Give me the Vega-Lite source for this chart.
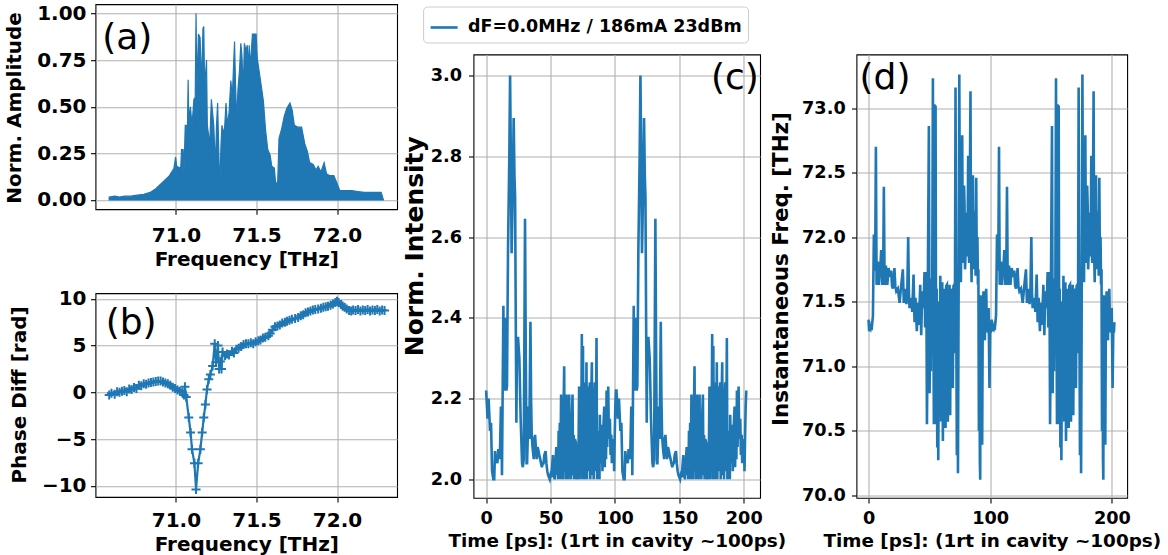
{
  "$schema": "https://vega.github.io/schema/vega-lite/v6.json",
  "background": "white",
  "padding": {"left": 3.5, "top": 2.2, "right": 2, "bottom": 2},
  "config": {
    "font": "DejaVu Sans",
    "view": {"stroke": "black", "strokeWidth": 1.1},
    "axis": {
      "domain": false, "grid": true, "gridColor": "#b0b0b0", "gridWidth": 1.1, "gridOpacity": 1,
      "tickColor": "black", "tickSize": 5, "tickWidth": 1.1,
      "labelFont": "DejaVu Sans", "labelFontWeight": "bold", "labelColor": "black", "labelFontSize": 20,
      "labelPadding": 4.5, "labelFlush": false, "labelOverlap": false, "labelBound": false,
      "titleFont": "DejaVu Sans", "titleFontWeight": "bold", "titleColor": "black", "titleFontSize": 20
    },
    "axisX": {"labelBaseline": "alphabetic", "titleBaseline": "alphabetic"},
    "axisY": {"titleBaseline": "bottom", "titleAngle": 270, "titleAlign": "center"}
  },
  "spacing": 3,
  "resolve": {"scale": {"color": "independent"}, "legend": {"color": "independent"}},
  "datasets": {
    "spec": [
      {"f":70.586,"a":0.015},{"f":70.62,"a":0.02},{"f":70.65,"a":0.015},{"f":70.68,"a":0.02},{"f":70.72,"a":0.02},{"f":70.76,"a":0.025},{"f":70.80,"a":0.03},{"f":70.84,"a":0.04},{"f":70.875,"a":0.06},{"f":70.90,"a":0.08},{"f":70.936,"a":0.11},{"f":70.96,"a":0.13},{"f":70.988,"a":0.17},{"f":70.998,"a":0.23},{"f":71.005,"a":0.18},{"f":71.03,"a":0.17},{"f":71.035,"a":0.27},{"f":71.045,"a":0.27},{"f":71.05,"a":0.14},{"f":71.058,"a":0.40},{"f":71.072,"a":0.40},{"f":71.076,"a":0.645},{"f":71.080,"a":0.42},{"f":71.09,"a":0.50},{"f":71.10,"a":0.40},{"f":71.112,"a":0.54},{"f":71.12,"a":0.55},{"f":71.125,"a":1.0},{"f":71.13,"a":0.60},{"f":71.14,"a":0.89},{"f":71.15,"a":0.87},{"f":71.16,"a":0.62},{"f":71.168,"a":0.92},{"f":71.173,"a":0.93},{"f":71.178,"a":0.60},{"f":71.19,"a":0.75},{"f":71.195,"a":0.40},{"f":71.21,"a":0.30},{"f":71.22,"a":0.54},{"f":71.235,"a":0.40},{"f":71.245,"a":0.17},{"f":71.252,"a":0.40},{"f":71.259,"a":0.52},{"f":71.265,"a":0.30},{"f":71.272,"a":0.05},{"f":71.28,"a":0.30},{"f":71.286,"a":0.40},{"f":71.30,"a":0.35},{"f":71.311,"a":0.52},{"f":71.32,"a":0.40},{"f":71.33,"a":0.47},{"f":71.341,"a":0.64},{"f":71.35,"a":0.55},{"f":71.364,"a":0.85},{"f":71.37,"a":0.62},{"f":71.378,"a":0.42},{"f":71.385,"a":0.59},{"f":71.395,"a":0.70},{"f":71.403,"a":0.84},{"f":71.41,"a":0.77},{"f":71.418,"a":0.58},{"f":71.425,"a":0.84},{"f":71.435,"a":0.80},{"f":71.443,"a":0.83},{"f":71.45,"a":0.70},{"f":71.455,"a":0.83},{"f":71.462,"a":0.71},{"f":71.475,"a":0.89},{"f":71.498,"a":0.89},{"f":71.505,"a":0.76},{"f":71.53,"a":0.61},{"f":71.543,"a":0.53},{"f":71.557,"a":0.37},{"f":71.57,"a":0.27},{"f":71.585,"a":0.24},{"f":71.595,"a":0.18},{"f":71.611,"a":0.17},{"f":71.62,"a":0.08},{"f":71.632,"a":0.10},{"f":71.64,"a":0.33},{"f":71.656,"a":0.38},{"f":71.673,"a":0.45},{"f":71.688,"a":0.49},{"f":71.708,"a":0.52},{"f":71.722,"a":0.48},{"f":71.735,"a":0.40},{"f":71.759,"a":0.39},{"f":71.78,"a":0.39},{"f":71.80,"a":0.30},{"f":71.816,"a":0.26},{"f":71.83,"a":0.20},{"f":71.852,"a":0.19},{"f":71.87,"a":0.16},{"f":71.883,"a":0.18},{"f":71.90,"a":0.15},{"f":71.92,"a":0.20},{"f":71.935,"a":0.14},{"f":71.955,"a":0.13},{"f":71.98,"a":0.13},{"f":71.995,"a":0.10},{"f":72.017,"a":0.05},{"f":72.05,"a":0.05},{"f":72.09,"a":0.05},{"f":72.13,"a":0.045},{"f":72.17,"a":0.04},{"f":72.22,"a":0.04},{"f":72.274,"a":0.04},{"f":72.288,"a":0.0}
    ],
    "phase": [
      {"f":70.586,"p":-0.3},{"f":70.60,"p":-0.1},{"f":70.62,"p":-0.2},{"f":70.635,"p":0.05},{"f":70.65,"p":0.0},{"f":70.665,"p":0.1},{"f":70.68,"p":0.2},{"f":70.695,"p":0.05},{"f":70.71,"p":0.35},{"f":70.725,"p":0.3},{"f":70.74,"p":0.5},{"f":70.755,"p":0.4},{"f":70.77,"p":0.75},{"f":70.785,"p":0.7},{"f":70.80,"p":0.9},{"f":70.815,"p":0.85},{"f":70.83,"p":1.0},{"f":70.845,"p":1.05},{"f":70.86,"p":1.1},{"f":70.875,"p":1.15},{"f":70.89,"p":1.2},{"f":70.905,"p":1.2},{"f":70.92,"p":1.1},{"f":70.935,"p":1.0},{"f":70.95,"p":0.9},{"f":70.965,"p":0.75},{"f":70.98,"p":0.55},{"f":70.995,"p":0.4},{"f":71.01,"p":0.25},{"f":71.025,"p":0.1},{"f":71.04,"p":0.0},{"f":71.05,"p":-0.3},{"f":71.056,"p":0.6},{"f":71.064,"p":-0.5},{"f":71.08,"p":-2.7},{"f":71.091,"p":-4.3},{"f":71.10,"p":-6.1},{"f":71.115,"p":-7.6},{"f":71.125,"p":-10.4},{"f":71.138,"p":-7.6},{"f":71.152,"p":-6.1},{"f":71.163,"p":-4.3},{"f":71.173,"p":-2.7},{"f":71.183,"p":-1.3},{"f":71.193,"p":0.3},{"f":71.204,"p":1.4},{"f":71.214,"p":1.9},{"f":71.228,"p":2.8},{"f":71.241,"p":5.2},{"f":71.249,"p":3.2},{"f":71.261,"p":5.0},{"f":71.268,"p":2.5},{"f":71.276,"p":3.3},{"f":71.283,"p":2.5},{"f":71.29,"p":4.3},{"f":71.305,"p":3.9},{"f":71.317,"p":4.1},{"f":71.33,"p":4.0},{"f":71.348,"p":4.4},{"f":71.36,"p":4.2},{"f":71.375,"p":4.6},{"f":71.389,"p":4.7},{"f":71.405,"p":4.9},{"f":71.42,"p":5.1},{"f":71.435,"p":5.2},{"f":71.45,"p":5.2},{"f":71.465,"p":5.3},{"f":71.48,"p":5.2},{"f":71.495,"p":5.4},{"f":71.512,"p":5.5},{"f":71.525,"p":5.6},{"f":71.54,"p":5.8},{"f":71.555,"p":5.9},{"f":71.574,"p":6.05},{"f":71.585,"p":6.3},{"f":71.60,"p":6.7},{"f":71.615,"p":7.0},{"f":71.63,"p":7.1},{"f":71.645,"p":7.2},{"f":71.66,"p":7.4},{"f":71.677,"p":7.5},{"f":71.69,"p":7.6},{"f":71.705,"p":7.7},{"f":71.72,"p":7.8},{"f":71.74,"p":7.9},{"f":71.759,"p":8.0},{"f":71.775,"p":8.2},{"f":71.79,"p":8.3},{"f":71.805,"p":8.5},{"f":71.82,"p":8.6},{"f":71.835,"p":8.7},{"f":71.85,"p":8.8},{"f":71.865,"p":8.85},{"f":71.883,"p":8.9},{"f":71.90,"p":9.0},{"f":71.915,"p":9.1},{"f":71.93,"p":9.15},{"f":71.944,"p":9.2},{"f":71.96,"p":9.3},{"f":71.975,"p":9.45},{"f":71.99,"p":9.6},{"f":72.0,"p":9.75},{"f":72.01,"p":9.6},{"f":72.025,"p":9.4},{"f":72.035,"p":9.2},{"f":72.047,"p":9.1},{"f":72.06,"p":8.9},{"f":72.075,"p":8.75},{"f":72.088,"p":8.7},{"f":72.10,"p":8.8},{"f":72.115,"p":8.75},{"f":72.13,"p":8.85},{"f":72.145,"p":8.7},{"f":72.16,"p":8.8},{"f":72.175,"p":8.75},{"f":72.19,"p":8.85},{"f":72.205,"p":8.7},{"f":72.22,"p":8.8},{"f":72.235,"p":8.75},{"f":72.25,"p":8.85},{"f":72.265,"p":8.7},{"f":72.28,"p":8.8},{"f":72.295,"p":8.75}
    ],
    "intensity": [
      {"t":0,"v":2.22},{"t":0.5,"v":2.19},{"t":1.1,"v":2.15},{"t":1.9,"v":2.20},{"t":2.5,"v":2.16},{"t":3.0,"v":2.12},{"t":3.8,"v":2.14},{"t":4.6,"v":2.02},{"t":5.6,"v":2.00},{"t":6.3,"v":2.00},{"t":6.9,"v":2.07},{"t":7.5,"v":2.04},{"t":8.2,"v":2.05},{"t":8.8,"v":2.04},{"t":9.4,"v":2.075},{"t":10.1,"v":2.05},{"t":10.7,"v":2.06},{"t":11.5,"v":2.18},{"t":12.0,"v":2.12},{"t":12.3,"v":2.01},{"t":13.4,"v":2.43},{"t":13.8,"v":2.22},{"t":14.2,"v":2.23},{"t":14.7,"v":2.22},{"t":15.2,"v":2.40},{"t":15.7,"v":2.22},{"t":16.2,"v":2.23},{"t":17.0,"v":2.57},{"t":18.0,"v":2.80},{"t":18.6,"v":3.00},{"t":19.2,"v":2.80},{"t":19.8,"v":2.56},{"t":20.6,"v":2.70},{"t":21.4,"v":2.895},{"t":22.0,"v":2.75},{"t":22.5,"v":2.70},{"t":23.0,"v":2.40},{"t":23.5,"v":2.14},{"t":24.0,"v":2.35},{"t":24.8,"v":2.35},{"t":25.8,"v":2.30},{"t":26.8,"v":2.15},{"t":27.9,"v":2.04},{"t":28.5,"v":2.03},{"t":29.2,"v":2.05},{"t":30.2,"v":2.645},{"t":30.8,"v":2.30},{"t":31.4,"v":2.04},{"t":31.8,"v":2.04},{"t":32.3,"v":2.10},{"t":32.8,"v":2.18},{"t":33.5,"v":2.10},{"t":34.4,"v":2.39},{"t":34.9,"v":2.20},{"t":35.4,"v":2.11},{"t":36.0,"v":2.08},{"t":37.0,"v":2.05},{"t":37.5,"v":2.10},{"t":38.0,"v":2.11},{"t":38.6,"v":2.08},{"t":39.3,"v":2.05},{"t":40.0,"v":2.08},{"t":40.7,"v":2.07},{"t":41.3,"v":2.06},{"t":42.0,"v":2.05},{"t":42.6,"v":2.04},{"t":43.3,"v":2.03},{"t":44.0,"v":2.04},{"t":44.6,"v":2.04},{"t":45.2,"v":2.06},{"t":46.2,"v":2.07},{"t":46.8,"v":2.04},{"t":47.5,"v":2.02},{"t":48.2,"v":2.01},{"t":49.4,"v":2.00},{"t":50.0,"v":2.01},{"t":50.6,"v":2.005},{"t":51.2,"v":2.03},{"t":51.9,"v":2.06},{"t":52.5,"v":2.01},{"t":53.2,"v":2.00},{"t":53.8,"v":2.04},{"t":54.5,"v":2.08},
      {"t":55.0,"v":2.01},{"t":55.4,"v":2.08},{"t":55.8,"v":2.00},{"t":56.3,"v":2.12},{"t":56.7,"v":2.02},{"t":57.2,"v":2.14},{"t":57.6,"v":2.00},{"t":58.2,"v":2.21},{"t":58.6,"v":2.03},{"t":59.1,"v":2.10},{"t":59.6,"v":2.00},{"t":60.1,"v":2.16},{"t":60.6,"v":2.28},{"t":61.0,"v":2.02},{"t":61.4,"v":2.18},{"t":61.8,"v":2.00},{"t":62.4,"v":2.21},{"t":62.8,"v":2.04},{"t":63.4,"v":2.18},{"t":63.8,"v":2.00},{"t":64.5,"v":2.21},{"t":64.9,"v":2.02},{"t":65.5,"v":2.10},{"t":65.9,"v":2.00},{"t":66.5,"v":2.15},{"t":67.1,"v":2.21},{"t":67.5,"v":2.01},{"t":68.0,"v":2.11},{"t":68.4,"v":2.00},{"t":69.0,"v":2.10},{"t":69.7,"v":2.09},{"t":70.2,"v":2.00},{"t":71.0,"v":2.04},{"t":71.5,"v":2.00},{"t":72.2,"v":2.23},{"t":72.6,"v":2.00},{"t":73.2,"v":2.20},{"t":73.7,"v":2.02},{"t":74.3,"v":2.36},{"t":74.7,"v":2.00},{"t":75.2,"v":2.33},{"t":75.6,"v":2.05},{"t":76.1,"v":2.24},{"t":76.5,"v":2.00},{"t":76.9,"v":2.24},{"t":77.4,"v":2.01},{"t":77.9,"v":2.29},{"t":78.3,"v":2.00},{"t":79.0,"v":2.23},{"t":79.4,"v":2.02},{"t":80.0,"v":2.20},{"t":80.5,"v":2.24},{"t":80.9,"v":2.00},{"t":81.5,"v":2.18},{"t":82.1,"v":2.29},{"t":82.5,"v":2.01},{"t":83.1,"v":2.18},{"t":83.5,"v":2.00},{"t":84.0,"v":2.20},{"t":84.4,"v":2.24},{"t":84.8,"v":2.02},{"t":85.3,"v":2.15},{"t":85.7,"v":2.35},{"t":86.1,"v":2.00},{"t":86.6,"v":2.12},{"t":87.0,"v":2.05},{"t":87.5,"v":2.12},{"t":88.0,"v":2.00},{"t":88.3,"v":2.16},{"t":88.8,"v":2.04},{"t":89.3,"v":2.10},{"t":89.9,"v":2.135},{"t":90.3,"v":2.02},{"t":90.9,"v":2.12},{"t":91.7,"v":2.18},{"t":92.1,"v":2.03},{"t":92.6,"v":2.15},{"t":93.1,"v":2.05},{"t":93.5,"v":2.22},{"t":94.0,"v":2.08},{"t":94.8,"v":2.23},{"t":95.3,"v":2.10},{"t":96.1,"v":2.15},{"t":96.6,"v":2.06},{"t":97.2,"v":2.11},{"t":97.6,"v":2.04},{"t":98.3,"v":2.09},{"t":99.0,"v":2.10},{"t":99.4,"v":2.02},{"t":99.8,"v":2.10},{"t":100.3,"v":2.18},{"t":100.8,"v":2.22},
      {"t":101.2,"v":2.22},{"t":101.7,"v":2.19},{"t":102.3,"v":2.15},{"t":103.1,"v":2.20},{"t":103.7,"v":2.16},{"t":104.2,"v":2.12},{"t":105.0,"v":2.14},{"t":105.8,"v":2.02},{"t":106.8,"v":2.00},{"t":107.5,"v":2.00},{"t":108.1,"v":2.07},{"t":108.7,"v":2.04},{"t":109.4,"v":2.05},{"t":110.0,"v":2.04},{"t":110.6,"v":2.075},{"t":111.3,"v":2.05},{"t":111.9,"v":2.06},{"t":112.7,"v":2.18},{"t":113.2,"v":2.12},{"t":113.5,"v":2.01},{"t":114.6,"v":2.43},{"t":115.0,"v":2.22},{"t":115.4,"v":2.23},{"t":115.9,"v":2.22},{"t":116.4,"v":2.40},{"t":116.9,"v":2.22},{"t":117.4,"v":2.23},{"t":118.2,"v":2.57},{"t":119.2,"v":2.80},{"t":119.8,"v":3.00},{"t":120.4,"v":2.80},{"t":121.0,"v":2.56},{"t":121.8,"v":2.70},{"t":122.6,"v":2.895},{"t":123.2,"v":2.75},{"t":123.7,"v":2.70},{"t":124.2,"v":2.40},{"t":124.7,"v":2.14},{"t":125.2,"v":2.35},{"t":126.0,"v":2.35},{"t":127.0,"v":2.30},{"t":128.0,"v":2.15},{"t":129.1,"v":2.04},{"t":129.7,"v":2.03},{"t":130.4,"v":2.05},{"t":131.4,"v":2.645},{"t":132.0,"v":2.30},{"t":132.6,"v":2.04},{"t":133.0,"v":2.04},{"t":133.5,"v":2.10},{"t":134.0,"v":2.18},{"t":134.7,"v":2.10},{"t":135.6,"v":2.39},{"t":136.1,"v":2.20},{"t":136.6,"v":2.11},{"t":137.2,"v":2.08},{"t":138.2,"v":2.05},{"t":138.7,"v":2.10},{"t":139.2,"v":2.11},{"t":139.8,"v":2.08},{"t":140.5,"v":2.05},{"t":141.2,"v":2.08},{"t":141.9,"v":2.07},{"t":142.5,"v":2.06},{"t":143.2,"v":2.05},{"t":143.8,"v":2.04},{"t":144.5,"v":2.03},{"t":145.2,"v":2.04},{"t":145.8,"v":2.04},{"t":146.4,"v":2.06},{"t":147.4,"v":2.07},{"t":148.0,"v":2.04},{"t":148.7,"v":2.02},{"t":149.4,"v":2.01},{"t":150.6,"v":2.00},{"t":151.2,"v":2.01},{"t":151.8,"v":2.005},{"t":152.4,"v":2.03},{"t":153.1,"v":2.06},{"t":153.7,"v":2.01},{"t":154.4,"v":2.00},{"t":155.0,"v":2.04},{"t":155.7,"v":2.08},
      {"t":156.2,"v":2.01},{"t":156.6,"v":2.08},{"t":157.0,"v":2.00},{"t":157.5,"v":2.12},{"t":157.9,"v":2.02},{"t":158.4,"v":2.14},{"t":158.8,"v":2.00},{"t":159.4,"v":2.21},{"t":159.8,"v":2.03},{"t":160.3,"v":2.10},{"t":160.8,"v":2.00},{"t":161.3,"v":2.16},{"t":161.8,"v":2.28},{"t":162.2,"v":2.02},{"t":162.6,"v":2.18},{"t":163.0,"v":2.00},{"t":163.6,"v":2.21},{"t":164.0,"v":2.04},{"t":164.6,"v":2.18},{"t":165.0,"v":2.00},{"t":165.7,"v":2.21},{"t":166.1,"v":2.02},{"t":166.7,"v":2.10},{"t":167.1,"v":2.00},{"t":167.7,"v":2.15},{"t":168.3,"v":2.21},{"t":168.7,"v":2.01},{"t":169.2,"v":2.11},{"t":169.6,"v":2.00},{"t":170.2,"v":2.10},{"t":170.9,"v":2.09},{"t":171.4,"v":2.00},{"t":172.2,"v":2.04},{"t":172.7,"v":2.00},{"t":173.4,"v":2.23},{"t":173.8,"v":2.00},{"t":174.4,"v":2.20},{"t":174.9,"v":2.02},{"t":175.5,"v":2.36},{"t":175.9,"v":2.00},{"t":176.4,"v":2.33},{"t":176.8,"v":2.05},{"t":177.3,"v":2.24},{"t":177.7,"v":2.00},{"t":178.1,"v":2.24},{"t":178.6,"v":2.01},{"t":179.1,"v":2.29},{"t":179.5,"v":2.00},{"t":180.2,"v":2.23},{"t":180.6,"v":2.02},{"t":181.2,"v":2.20},{"t":181.7,"v":2.24},{"t":182.1,"v":2.00},{"t":182.7,"v":2.18},{"t":183.3,"v":2.29},{"t":183.7,"v":2.01},{"t":184.3,"v":2.18},{"t":184.7,"v":2.00},{"t":185.2,"v":2.20},{"t":185.6,"v":2.24},{"t":186.0,"v":2.02},{"t":186.5,"v":2.15},{"t":186.9,"v":2.35},{"t":187.3,"v":2.00},{"t":187.8,"v":2.12},{"t":188.2,"v":2.05},{"t":188.7,"v":2.12},{"t":189.2,"v":2.00},{"t":189.5,"v":2.16},{"t":190.0,"v":2.04},{"t":190.5,"v":2.10},{"t":191.1,"v":2.135},{"t":191.5,"v":2.02},{"t":192.1,"v":2.12},{"t":192.9,"v":2.18},{"t":193.3,"v":2.03},{"t":193.8,"v":2.15},{"t":194.3,"v":2.05},{"t":194.7,"v":2.22},{"t":195.2,"v":2.08},{"t":196.0,"v":2.23},{"t":196.5,"v":2.10},{"t":197.3,"v":2.15},{"t":197.8,"v":2.06},{"t":198.4,"v":2.11},{"t":198.8,"v":2.04},{"t":199.5,"v":2.09},{"t":200.2,"v":2.10},{"t":200.6,"v":2.02},{"t":201.0,"v":2.10},{"t":201.5,"v":2.18},{"t":202.0,"v":2.22}
    ],
    "freq": [
      {"t":0,"v":71.36},{"t":0.5,"v":71.27},{"t":1.2,"v":71.30},{"t":1.7,"v":71.29},{"t":2.3,"v":71.32},{"t":2.8,"v":71.31},{"t":3.6,"v":71.39},{"t":4.4,"v":72.02},{"t":5.0,"v":71.74},{"t":5.5,"v":71.87},{"t":6.05,"v":72.70},{"t":6.6,"v":71.63},{"t":7.2,"v":71.75},{"t":7.7,"v":71.81},{"t":8.5,"v":71.63},{"t":9.0,"v":71.70},{"t":9.6,"v":71.74},{"t":10.4,"v":71.90},{"t":11.3,"v":71.63},{"t":12.1,"v":71.81},{"t":12.6,"v":72.39},{"t":13.2,"v":71.63},{"t":14.3,"v":71.78},{"t":14.9,"v":71.66},{"t":15.4,"v":71.63},{"t":16.5,"v":71.76},{"t":17.6,"v":71.69},{"t":18.6,"v":71.74},{"t":19.3,"v":71.62},{"t":20.0,"v":71.60},{"t":21.3,"v":71.76},{"t":22.0,"v":71.62},{"t":22.8,"v":71.58},{"t":24.1,"v":71.60},{"t":25.5,"v":71.49},{"t":26.9,"v":71.63},{"t":28.2,"v":71.75},{"t":29.0,"v":71.49},{"t":30.4,"v":71.60},{"t":31.1,"v":71.48},{"t":31.8,"v":71.55},{"t":32.6,"v":72.00},{"t":33.2,"v":71.55},{"t":33.7,"v":71.45},{"t":35.1,"v":71.53},{"t":35.9,"v":71.42},{"t":37.0,"v":71.71},{"t":37.8,"v":71.34},{"t":38.6,"v":71.53},{"t":39.7,"v":71.27},{"t":40.6,"v":71.49},{"t":41.4,"v":71.32},{"t":42.5,"v":71.63},{"t":43.3,"v":71.24},{"t":44.1,"v":71.58},{"t":45.2,"v":71.45},{"t":46.0,"v":71.73},{"t":46.5,"v":71.30},{"t":47.1,"v":71.37},{"t":47.5,"v":71.73},{"t":48.0,"v":70.55},{"t":48.4,"v":71.00},{"t":48.8,"v":71.73},{"t":49.6,"v":72.86},{"t":50.2,"v":70.79},{"t":50.7,"v":71.68},{"t":51.2,"v":70.96},{"t":51.7,"v":71.65},{"t":52.3,"v":71.45},{"t":52.9,"v":73.23},{"t":53.4,"v":71.20},{"t":53.7,"v":70.55},{"t":54.2,"v":73.03},{"t":54.6,"v":71.10},{"t":55.1,"v":73.02},{"t":55.6,"v":70.55},{"t":56.0,"v":71.60},{"t":56.5,"v":70.37},{"t":56.9,"v":71.50},{"t":57.3,"v":70.27},{"t":57.9,"v":71.27},{"t":58.4,"v":70.90},{"t":59.0,"v":71.70},{"t":59.7,"v":70.57},{"t":60.2,"v":71.62},{"t":60.6,"v":71.65},{"t":61.1,"v":70.42},{"t":61.6,"v":71.10},{"t":62.0,"v":71.60},{"t":62.5,"v":70.80},{"t":63.0,"v":71.58},{"t":63.3,"v":70.52},{"t":63.8,"v":71.62},{"t":64.4,"v":71.63},{"t":64.8,"v":70.75},{"t":65.2,"v":70.57},{"t":65.7,"v":71.60},{"t":66.2,"v":71.00},{"t":66.6,"v":71.63},{"t":67.1,"v":70.62},{"t":67.6,"v":71.58},{"t":68.2,"v":71.60},{"t":68.7,"v":70.90},{"t":69.3,"v":70.83},{"t":69.8,"v":71.62},{"t":70.4,"v":71.63},{"t":70.9,"v":71.10},{"t":71.5,"v":73.16},{"t":72.0,"v":71.64},{"t":72.6,"v":70.31},{"t":73.0,"v":71.68},{"t":73.5,"v":70.17},{"t":74.1,"v":71.70},{"t":74.6,"v":73.26},{"t":75.2,"v":71.75},{"t":75.9,"v":71.65},{"t":76.4,"v":72.20},{"t":77.0,"v":72.79},{"t":77.5,"v":71.80},{"t":78.1,"v":71.97},{"t":78.5,"v":72.40},{"t":78.9,"v":72.25},{"t":79.3,"v":71.75},{"t":79.7,"v":71.86},{"t":80.2,"v":72.10},{"t":80.8,"v":72.19},{"t":81.3,"v":71.85},{"t":81.9,"v":72.63},{"t":82.3,"v":71.90},{"t":82.7,"v":71.80},{"t":83.2,"v":72.30},{"t":83.8,"v":73.13},{"t":84.2,"v":71.90},{"t":84.7,"v":71.65},{"t":85.2,"v":72.10},{"t":85.8,"v":72.48},{"t":86.3,"v":71.75},{"t":86.7,"v":72.20},{"t":87.1,"v":71.80},{"t":87.6,"v":72.00},{"t":88.0,"v":71.70},{"t":88.5,"v":72.46},{"t":89.0,"v":71.75},{"t":89.5,"v":72.00},{"t":89.9,"v":71.63},{"t":90.3,"v":71.75},{"t":90.7,"v":70.50},{"t":91.1,"v":71.40},{"t":91.5,"v":70.27},{"t":91.8,"v":70.12},{"t":92.1,"v":71.55},{"t":92.6,"v":71.30},{"t":93.0,"v":71.52},{"t":93.4,"v":70.39},{"t":93.9,"v":71.45},{"t":94.5,"v":71.58},{"t":95.0,"v":71.30},{"t":95.6,"v":71.20},{"t":96.2,"v":71.50},{"t":96.7,"v":71.60},{"t":97.3,"v":71.30},{"t":98.1,"v":71.26},{"t":98.7,"v":71.45},{"t":99.4,"v":70.83},{"t":100.0,"v":71.30},{"t":100.5,"v":71.26},{"t":100.9,"v":71.34},
      {"t":101.2,"v":71.36},{"t":101.7,"v":71.27},{"t":102.4,"v":71.30},{"t":102.9,"v":71.29},{"t":103.5,"v":71.32},{"t":104.0,"v":71.31},{"t":104.8,"v":71.39},{"t":105.6,"v":72.02},{"t":106.2,"v":71.74},{"t":106.7,"v":71.87},{"t":107.25,"v":72.70},{"t":107.8,"v":71.63},{"t":108.4,"v":71.75},{"t":108.9,"v":71.81},{"t":109.7,"v":71.63},{"t":110.2,"v":71.70},{"t":110.8,"v":71.74},{"t":111.6,"v":71.90},{"t":112.5,"v":71.63},{"t":113.3,"v":71.81},{"t":113.8,"v":72.39},{"t":114.4,"v":71.63},{"t":115.5,"v":71.78},{"t":116.1,"v":71.66},{"t":116.6,"v":71.63},{"t":117.7,"v":71.76},{"t":118.8,"v":71.69},{"t":119.8,"v":71.74},{"t":120.5,"v":71.62},{"t":121.2,"v":71.60},{"t":122.5,"v":71.76},{"t":123.2,"v":71.62},{"t":124.0,"v":71.58},{"t":125.3,"v":71.60},{"t":126.7,"v":71.49},{"t":128.1,"v":71.63},{"t":129.4,"v":71.75},{"t":130.2,"v":71.49},{"t":131.6,"v":71.60},{"t":132.3,"v":71.48},{"t":133.0,"v":71.55},{"t":133.8,"v":72.00},{"t":134.4,"v":71.55},{"t":134.9,"v":71.45},{"t":136.3,"v":71.53},{"t":137.1,"v":71.42},{"t":138.2,"v":71.71},{"t":139.0,"v":71.34},{"t":139.8,"v":71.53},{"t":140.9,"v":71.27},{"t":141.8,"v":71.49},{"t":142.6,"v":71.32},{"t":143.7,"v":71.63},{"t":144.5,"v":71.24},{"t":145.3,"v":71.58},{"t":146.4,"v":71.45},{"t":147.2,"v":71.73},{"t":147.7,"v":71.30},{"t":148.3,"v":71.37},{"t":148.7,"v":71.73},{"t":149.2,"v":70.55},{"t":149.6,"v":71.00},{"t":150.0,"v":71.73},{"t":150.8,"v":72.86},{"t":151.4,"v":70.79},{"t":151.9,"v":71.68},{"t":152.4,"v":70.96},{"t":152.9,"v":71.65},{"t":153.5,"v":71.45},{"t":154.1,"v":73.23},{"t":154.6,"v":71.20},{"t":154.9,"v":70.55},{"t":155.4,"v":73.03},{"t":155.8,"v":71.10},{"t":156.3,"v":73.02},{"t":156.8,"v":70.55},{"t":157.2,"v":71.60},{"t":157.7,"v":70.37},{"t":158.1,"v":71.50},{"t":158.5,"v":70.27},{"t":159.1,"v":71.27},{"t":159.6,"v":70.90},{"t":160.2,"v":71.70},{"t":160.9,"v":70.57},{"t":161.4,"v":71.62},{"t":161.8,"v":71.65},{"t":162.3,"v":70.42},{"t":162.8,"v":71.10},{"t":163.2,"v":71.60},{"t":163.7,"v":70.80},{"t":164.2,"v":71.58},{"t":164.5,"v":70.52},{"t":165.0,"v":71.62},{"t":165.6,"v":71.63},{"t":166.0,"v":70.75},{"t":166.4,"v":70.57},{"t":166.9,"v":71.60},{"t":167.4,"v":71.00},{"t":167.8,"v":71.63},{"t":168.3,"v":70.62},{"t":168.8,"v":71.58},{"t":169.4,"v":71.60},{"t":169.9,"v":70.90},{"t":170.5,"v":70.83},{"t":171.0,"v":71.62},{"t":171.6,"v":71.63},{"t":172.1,"v":71.10},{"t":172.7,"v":73.16},{"t":173.2,"v":71.64},{"t":173.8,"v":70.31},{"t":174.2,"v":71.68},{"t":174.7,"v":70.17},{"t":175.3,"v":71.70},{"t":175.8,"v":73.26},{"t":176.4,"v":71.75},{"t":177.1,"v":71.65},{"t":177.6,"v":72.20},{"t":178.2,"v":72.79},{"t":178.7,"v":71.80},{"t":179.3,"v":71.97},{"t":179.7,"v":72.40},{"t":180.1,"v":72.25},{"t":180.5,"v":71.75},{"t":180.9,"v":71.86},{"t":181.4,"v":72.10},{"t":182.0,"v":72.19},{"t":182.5,"v":71.85},{"t":183.1,"v":72.63},{"t":183.5,"v":71.90},{"t":183.9,"v":71.80},{"t":184.4,"v":72.30},{"t":185.0,"v":73.13},{"t":185.4,"v":71.90},{"t":185.9,"v":71.65},{"t":186.4,"v":72.10},{"t":187.0,"v":72.48},{"t":187.5,"v":71.75},{"t":187.9,"v":72.20},{"t":188.3,"v":71.80},{"t":188.8,"v":72.00},{"t":189.2,"v":71.70},{"t":189.7,"v":72.46},{"t":190.2,"v":71.75},{"t":190.7,"v":72.00},{"t":191.1,"v":71.63},{"t":191.5,"v":71.75},{"t":191.9,"v":70.50},{"t":192.3,"v":71.40},{"t":192.7,"v":70.27},{"t":193.0,"v":70.12},{"t":193.3,"v":71.55},{"t":193.8,"v":71.30},{"t":194.2,"v":71.52},{"t":194.6,"v":70.39},{"t":195.1,"v":71.45},{"t":195.7,"v":71.58},{"t":196.2,"v":71.30},{"t":196.8,"v":71.20},{"t":197.4,"v":71.50},{"t":197.9,"v":71.60},{"t":198.5,"v":71.30},{"t":199.3,"v":71.26},{"t":199.9,"v":71.45},{"t":200.6,"v":70.83},{"t":201.2,"v":71.30},{"t":201.7,"v":71.26},{"t":202.1,"v":71.34}
    ]
  },
  "hconcat": [
    {
      "spacing": 18,
      "vconcat": [
        {
          "width": 301.6, "height": 205,
          "layer": [
            {
              "data": {"name": "spec"},
              "mark": {"type": "area", "color": "#1f77b4", "stroke": "#1f77b4", "strokeWidth": 1.2, "opacity": 1},
              "encoding": {
                "x": {"field": "f", "type": "quantitative",
                  "scale": {"domain": [70.501, 72.373], "nice": false, "zero": false},
                  "axis": {"values": [71.0, 71.5, 72.0], "format": ".1f", "title": "Frequency [THz]", "titleY": 56, "labelPadding": 27.5}},
                "y": {"field": "a", "type": "quantitative",
                  "scale": {"domain": [-0.05, 1.05], "nice": false, "zero": false},
                  "axis": {"values": [0, 0.25, 0.5, 0.75, 1.0], "format": ".2f", "title": "Norm. Amplitude", "titleX": -71.2, "titleY": 103.2}},
                "y2": {"datum": 0}
              }
            },
            {
              "data": {"values": [{"label": "(a)"}]},
              "mark": {"type": "text", "font": "DejaVu Sans", "fontSize": 36, "align": "left", "baseline": "alphabetic", "color": "black"},
              "encoding": {"x": {"datum": 70.543}, "y": {"datum": 0.811}, "text": {"field": "label"}}
            }
          ]
        },
        {
          "width": 301.6, "height": 203.8,
          "layer": [
            {
              "data": {"name": "phase"},
              "mark": {"type": "line", "color": "#1f77b4", "strokeWidth": 2.2},
              "encoding": {
                "x": {"field": "f", "type": "quantitative",
                  "scale": {"domain": [70.501, 72.373], "nice": false, "zero": false},
                  "axis": {"values": [71.0, 71.5, 72.0], "format": ".1f", "title": "Frequency [THz]", "titleY": 53.5, "labelPadding": 25}},
                "y": {"field": "p", "type": "quantitative",
                  "scale": {"domain": [-11.2, 10.6], "nice": false, "zero": false},
                  "axis": {"values": [-10, -5, 0, 5, 10], "title": "Phase Diff [rad]", "titleX": -65.7, "titleY": 101.3}}
              }
            },
            {
              "data": {"name": "phase"},
              "mark": {"type": "point", "shape": "M-1,0L1,0M0,-1L0,1", "size": 81, "filled": false, "color": "#1f77b4", "strokeWidth": 2, "opacity": 1},
              "encoding": {"x": {"field": "f", "type": "quantitative"}, "y": {"field": "p", "type": "quantitative"}}
            },
            {
              "data": {"values": [{"label": "(b)"}]},
              "mark": {"type": "text", "font": "DejaVu Sans", "fontSize": 36, "align": "left", "baseline": "alphabetic", "color": "black"},
              "encoding": {"x": {"datum": 70.564}, "y": {"datum": 6.22}, "text": {"field": "label"}}
            }
          ]
        }
      ]
    },
    {
      "spacing": 10.3,
      "resolve": {"scale": {"color": "independent"}, "legend": {"color": "independent"}},
      "vconcat": [
        {
          "width": 1, "height": 1,
          "view": {"stroke": null},
          "data": {"values": []},
          "mark": {"type": "line"},
          "encoding": {
            "x": {"field": "t", "type": "quantitative", "axis": null},
            "y": {"field": "v", "type": "quantitative", "axis": null},
            "color": {"datum": "dF=0.0MHz / 186mA 23dBm", "type": "nominal",
              "scale": {"range": ["#1f77b4"]},
              "legend": {"orient": "none", "legendX": -50.4, "legendY": 2.3, "title": null,
                "symbolType": "stroke", "symbolStrokeWidth": 2.6, "symbolSize": 729,
                "labelFont": "DejaVu Sans", "labelFontWeight": "bold", "labelFontSize": 17.5, "labelColor": "black", "labelOffset": 9, "labelLimit": 600,
                "padding": 6, "strokeColor": "#cccccc", "fillColor": "white", "cornerRadius": 4}}
          }
        },
        {
          "spacing": -17,
          "hconcat": [
            {
              "width": 286.6, "height": 443.4,
              "layer": [
                {
                  "data": {"name": "intensity"},
                  "mark": {"type": "line", "strokeWidth": 2.6, "color": "#1f77b4"},
                  "encoding": {
                    "x": {"field": "t", "type": "quantitative",
                      "scale": {"domain": [-9.8, 212.7], "nice": false, "zero": false},
                      "axis": {"values": [0, 50, 100, 150, 200], "title": "Time [ps]: (1rt in cavity ~100ps)", "titleFontSize": 18.4, "titleY": 48.5, "labelFontSize": 17.7, "labelPadding": 21}},
                    "y": {"field": "v", "type": "quantitative",
                      "scale": {"domain": [1.954, 3.052], "nice": false, "zero": false},
                      "axis": {"values": [2.0, 2.2, 2.4, 2.6, 2.8, 3.0], "format": ".1f", "title": "Norm. Intensity", "titleFontSize": 25, "titleX": -45.7, "titleY": 191.2, "labelFontSize": 17.7, "labelPadding": 7}}
                  }
                },
                {
                  "data": {"values": [{"label": "(c)"}]},
                  "mark": {"type": "text", "font": "DejaVu Sans", "fontSize": 36, "align": "left", "baseline": "alphabetic", "color": "black"},
                  "encoding": {"x": {"datum": 174.5}, "y": {"datum": 2.967}, "text": {"field": "label"}}
                }
              ]
            },
            {
              "width": 270.7, "height": 443.4,
              "layer": [
                {
                  "data": {"name": "freq"},
                  "mark": {"type": "line", "strokeWidth": 2.6, "color": "#1f77b4"},
                  "encoding": {
                    "x": {"field": "t", "type": "quantitative",
                      "scale": {"domain": [-9.9, 212.6], "nice": false, "zero": false},
                      "axis": {"values": [0, 100, 200], "title": "Time [ps]: (1rt in cavity ~100ps)", "titleFontSize": 18.4, "titleY": 48.5, "labelFontSize": 17.7, "labelPadding": 21}},
                    "y": {"field": "v", "type": "quantitative",
                      "scale": {"domain": [69.979, 73.415], "nice": false, "zero": false},
                      "axis": {"values": [70.0, 70.5, 71.0, 71.5, 72.0, 72.5, 73.0], "format": ".1f", "title": "Instantaneous Freq. [THz]", "titleFontSize": 21.4, "titleX": -64.8, "titleY": 214.1, "labelFontSize": 17.7, "labelPadding": 6.3}}
                  }
                },
                {
                  "data": {"values": [{"label": "(d)"}]},
                  "mark": {"type": "text", "font": "DejaVu Sans", "fontSize": 36, "align": "left", "baseline": "alphabetic", "color": "black"},
                  "encoding": {"x": {"datum": -7.4}, "y": {"datum": 73.151}, "text": {"field": "label"}}
                }
              ]
            }
          ]
        }
      ]
    }
  ]
}
